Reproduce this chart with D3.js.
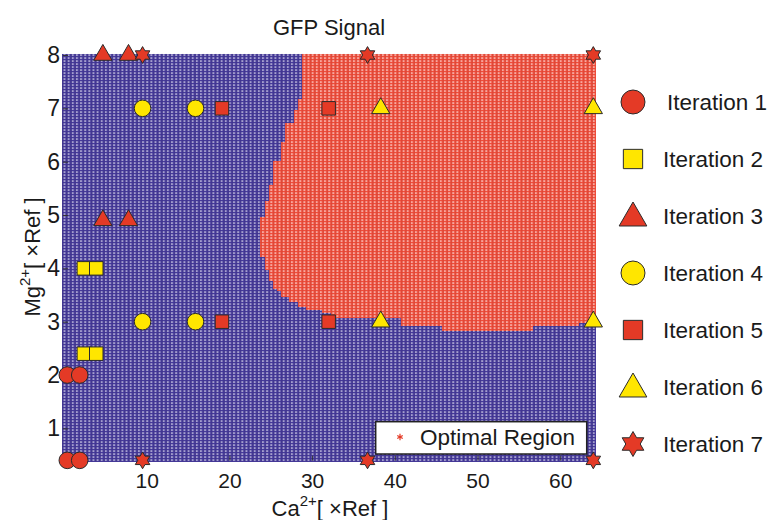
<!DOCTYPE html>
<html>
<head>
<meta charset="utf-8">
<script src="https://cdn.jsdelivr.net/npm/d3@7"></script>
<style>
  html, body { margin: 0; padding: 0; background: #fff; }
  svg { display: block; }
  text { font-family: "Liberation Sans", Arial, sans-serif; fill: #1a1a1a; }
</style>
</head>
<body>
<svg id="chart" width="769" height="520"></svg>
<script>
// ---- Data -------------------------------------------------------------
// Axis ticks
const caTicks = [10, 20, 30, 40, 50, 60];
const mgTicks = [1, 2, 3, 4, 5, 6, 7, 8];

// Optimal (red) region: left edge in Ca for each Mg band (band starts at mgBandLo)
const mgBandLo  = [2.80, 3.09, 3.16, 3.24, 3.30, 3.37, 3.47, 3.56, 3.65, 3.78, 3.97, 4.22, 4.29, 5.00, 5.30, 5.60, 5.85, 6.05, 6.40, 6.75, 7.00, 7.20];
const caBandMin = [33.4, 32.2, 31.2, 29.5, 28.1, 27.3, 26.5, 25.9, 25.3, 24.7, 24.3, 23.9, 23.9, 24.3, 24.7, 25.1, 25.5, 26.1, 26.9, 27.7, 28.1, 28.9];
// Lower edge of the optimal region in Mg, for Ca segments starting at caSegLo
const caSegLo   = [0, 41.0, 45.7, 56.6, 62.4];
const mgSegMin  = [3.07, 2.94, 2.85, 2.94, 3.00];

// Sampled points per iteration
const iter1Ca = [0.4, 1.9, 0.4, 1.9],      iter1Mg = [0.4, 0.4, 2, 2];
const iter2Ca = [2.4, 3.9, 2.4, 3.9],      iter2Mg = [2.4, 2.4, 4, 4];
const iter3Ca = [4.7, 7.8, 4.7, 7.8],      iter3Mg = [8, 8, 4.9, 4.9];
const iter4Ca = [9.5, 15.9, 9.5, 15.9],    iter4Mg = [7, 7, 3, 3];
const iter5Ca = [19.1, 32, 19.1, 32],      iter5Mg = [7, 7, 3, 3];
const iter6Ca = [38.3, 64, 38.3, 64],      iter6Mg = [7, 7, 3, 3];
const iter7Ca = [9.5, 36.7, 64, 9.5, 36.7, 64], iter7Mg = [8, 8, 8, 0.4, 0.4, 0.4];

const legendLabels = ["Iteration 1", "Iteration 2", "Iteration 3", "Iteration 4", "Iteration 5", "Iteration 6", "Iteration 7"];

// ---- Setup ------------------------------------------------------------
const svg = d3.select("#chart");
const x = d3.scaleLinear().domain([0, 64]).range([64, 593.3]);
const y = d3.scaleLinear().domain([0, 8]).range([481.7, 55]);

const RED = "#e43a26", YELLOW = "#ffe600", STROKE = "#2b2b2b";
const BLUE_BG = "#45399a", RED_BG = "#ef4c3a";

// Sampling lattice of the response surface
const caStep = 0.5, mgStep = 0.05;
const caGrid = d3.range(0, 64 + 1e-9, caStep);
const mgGrid = d3.range(0.4, 8 + 1e-9, mgStep);

function bandIndex(arr, v) { return d3.bisectRight(arr, v) - 1; }
function isOptimal(ca, mg) {
  const si = bandIndex(caSegLo, ca);
  if (mg < mgSegMin[si]) return false;
  const bi = bandIndex(mgBandLo, mg);
  if (bi < 0) return false;
  return ca >= caBandMin[bi];
}

const cells = [];
caGrid.forEach(ca => mgGrid.forEach(mg => cells.push({ ca, mg, opt: isOptimal(ca, mg) })));

const cw = x(caStep) - x(0);
const ch = y(0) - y(mgStep);

const gridG = svg.append("g").attr("shape-rendering", "crispEdges");
gridG.selectAll("rect").data(cells).join("rect")
  .attr("x", d => x(d.ca) - cw / 2)
  .attr("y", d => y(d.mg) - ch / 2)
  .attr("width", cw + 0.4)
  .attr("height", ch + 0.4)
  .attr("fill", d => d.opt ? RED_BG : BLUE_BG);

// Marker texture: each lattice column shows small white dashes
const defs = svg.append("defs");
const pat = defs.append("pattern")
  .attr("id", "dash")
  .attr("patternUnits", "userSpaceOnUse")
  .attr("x", x(0) - cw / 2)
  .attr("y", 0)
  .attr("width", cw)
  .attr("height", 3);
pat.append("rect").attr("x", cw * 0.1).attr("y", 0).attr("width", 0.9).attr("height", 3)
  .attr("fill", "#000").attr("opacity", 0.12);
pat.append("rect").attr("x", cw * 0.38).attr("y", 0.5).attr("width", 2).attr("height", 1.1)
  .attr("fill", "#fff").attr("opacity", 0.85);

svg.append("rect")
  .attr("x", x(caGrid[0]) - cw / 2)
  .attr("y", y(mgGrid[mgGrid.length - 1]) - ch / 2)
  .attr("width", x(caGrid[caGrid.length - 1]) - x(caGrid[0]) + cw)
  .attr("height", y(mgGrid[0]) - y(mgGrid[mgGrid.length - 1]) + ch)
  .attr("fill", "url(#dash)");

// ---- Axes ---------------------------------------------------------------
const plotBottom = y(mgGrid[0]) - ch / 2 + ch;
const plotLeft = x(caGrid[0]) - cw / 2;

const xAxis = d3.axisBottom(x).tickValues(caTicks).tickSizeInner(-5).tickSizeOuter(0).tickPadding(12);
const xg = svg.append("g").attr("transform", `translate(0,${plotBottom - 1})`).call(xAxis);
xg.select(".domain").remove();
xg.selectAll(".tick line").attr("stroke", "#333");
xg.selectAll(".tick text").attr("font-size", 21).attr("fill", "#1a1a1a")
  .attr("font-family", "'Liberation Sans', Arial, sans-serif");

const yAxis = d3.axisLeft(y).tickValues(mgTicks).tickSizeInner(-5).tickSizeOuter(0).tickPadding(3);
const yg = svg.append("g").attr("transform", `translate(${plotLeft + 1},0)`).call(yAxis);
yg.select(".domain").remove();
yg.selectAll(".tick line").attr("stroke", "#333");
yg.selectAll(".tick text").attr("font-size", 23).attr("fill", "#1a1a1a")
  .attr("font-family", "'Liberation Sans', Arial, sans-serif");

// Title
svg.append("text").attr("x", 329).attr("y", 35).attr("text-anchor", "middle")
  .attr("font-size", 22).text("GFP Signal");

// Axis labels with superscript charges
function axisLabel(g, base) {
  g.append("tspan").text(base);
  g.append("tspan").attr("font-size", 15).attr("dy", -10).text("2+");
  g.append("tspan").attr("dy", 10).text("[ \u00d7Ref ]");
}
axisLabel(svg.append("text").attr("x", 330).attr("y", 516).attr("text-anchor", "middle")
  .attr("font-size", 22), "Ca");
axisLabel(svg.append("text").attr("transform", "translate(40,257) rotate(-90)")
  .attr("text-anchor", "middle").attr("font-size", 22), "Mg");

// ---- Optimal region legend box -------------------------------------------
svg.append("rect").attr("x", 375.7).attr("y", 421.7).attr("width", 211).attr("height", 32.3)
  .attr("fill", "#fff").attr("stroke", "#222").attr("stroke-width", 1.5);
svg.append("path").attr("transform", "translate(400,437)")
  .attr("d", d3.symbol(d3.symbolAsterisk, 28)())
  .attr("stroke", RED).attr("stroke-width", 1.2).attr("fill", "none");
svg.append("text").attr("x", 420).attr("y", 437).attr("dy", "0.35em")
  .attr("font-size", 22.5).text("Optimal Region");

// ---- Markers ---------------------------------------------------------------
// Six-pointed star symbol; size is the outer radius
const hexagram = {
  draw(ctx, r) {
    const ri = r / Math.sqrt(3);
    for (let i = 0; i < 12; i++) {
      const a = -Math.PI / 2 + i * Math.PI / 6;
      const rr = i % 2 === 0 ? r : ri;
      const px = rr * Math.cos(a), py = rr * Math.sin(a);
      if (i === 0) ctx.moveTo(px, py); else ctx.lineTo(px, py);
    }
    ctx.closePath();
  }
};

const series = [
  { ca: iter1Ca, mg: iter1Mg, type: d3.symbolCircle,   size: 216, lsize: 452, fill: RED },
  { ca: iter2Ca, mg: iter2Mg, type: d3.symbolSquare,   size: 182, lsize: 372, fill: YELLOW },
  { ca: iter3Ca, mg: iter3Mg, type: d3.symbolTriangle, size: 145, lsize: 332, fill: RED },
  { ca: iter4Ca, mg: iter4Mg, type: d3.symbolCircle,   size: 216, lsize: 452, fill: YELLOW },
  { ca: iter5Ca, mg: iter5Mg, type: d3.symbolSquare,   size: 182, lsize: 372, fill: RED },
  { ca: iter6Ca, mg: iter6Mg, type: d3.symbolTriangle, size: 145, lsize: 332, fill: YELLOW },
  { ca: iter7Ca, mg: iter7Mg, type: hexagram,          size: 8.4, lsize: 12.5, fill: RED }
];

const markG = svg.append("g");
series.forEach(s => {
  const pts = s.ca.map((c, i) => ({ ca: c, mg: s.mg[i] }));
  markG.append("g").selectAll("path").data(pts).join("path")
    .attr("transform", d => `translate(${x(d.ca)},${y(d.mg)})`)
    .attr("d", d3.symbol(s.type, s.size)())
    .attr("fill", s.fill).attr("stroke", STROKE).attr("stroke-width", 1);
});

// ---- Iteration legend --------------------------------------------------------
const legY = d3.scaleLinear().domain([0, 6]).range([102, 444]);
const leg = svg.append("g");
series.forEach((s, i) => {
  leg.append("path")
    .attr("transform", `translate(633,${legY(i) + (s.type === d3.symbolTriangle ? 2 : 0)})`)
    .attr("d", d3.symbol(s.type, s.lsize)())
    .attr("fill", s.fill).attr("stroke", STROKE).attr("stroke-width", 1);
  leg.append("text").attr("x", i === 0 ? 667 : 663).attr("y", legY(i)).attr("dy", "0.35em")
    .attr("font-size", 22.5).text(legendLabels[i]);
});
</script>
</body>
</html>
